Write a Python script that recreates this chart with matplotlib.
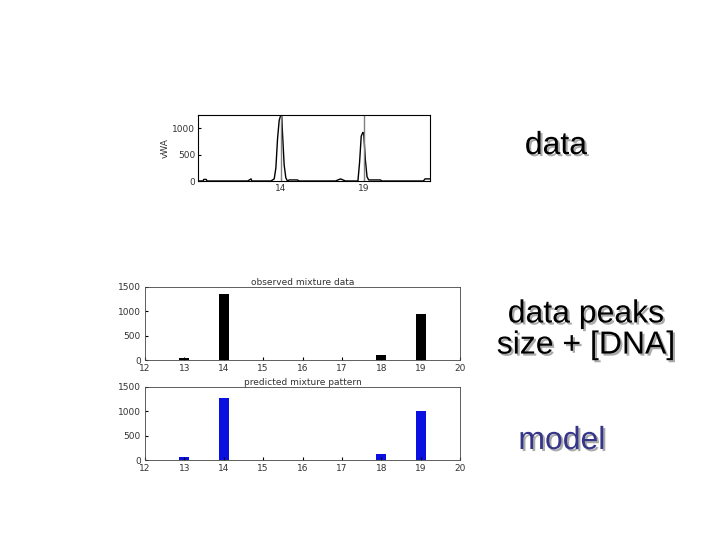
import matplotlib
matplotlib.use("Agg")
import matplotlib.pyplot as plt
import matplotlib.patheffects as pe

# trace data (allele position, signal)
trace_x = [9.0, 9.3, 9.35, 9.5, 9.55, 12.0, 12.2, 12.25, 13.4, 13.6, 13.7, 13.8, 13.9, 14.0, 14.05, 14.1, 14.2, 14.3, 14.4, 14.5, 14.6, 15.0, 15.1,
           17.3, 17.6, 17.9, 18.2, 18.65, 18.75, 18.85, 18.95, 19.0, 19.1, 19.2, 19.3, 19.4, 20.0, 20.1, 22.6, 22.7, 23.0]
trace_y = [0, 0, 30, 30, 0, 0, 40, 0, 0, 40, 250, 800, 1150, 1250, 1250, 900, 300, 60, 0, 20, 20, 20, 0,
           0, 40, 0, 0, 0, 350, 850, 920, 900, 400, 80, 20, 20, 20, 0, 0, 40, 40]
trace_ticks = [14, 19]

alleles = [13, 14, 18, 19]
observed = [50, 1350, 100, 950]
predicted = [70, 1270, 130, 1000]
bar_ticks = [12, 13, 14, 15, 16, 17, 18, 19, 20]

fig = plt.figure(figsize=(7.2, 5.4), dpi=100)
W, H = 720, 540
def ax_at(x0, y0, x1, y1):
    return fig.add_axes([x0 / W, 1 - y1 / H, (x1 - x0) / W, (y1 - y0) / H])

tf = dict(fontsize=6.5, color='#333333')

ax = ax_at(198, 115, 430, 181)
ax.plot(trace_x, trace_y, color='black', lw=1.0)
for t in trace_ticks:
    ax.axvline(t, color='gray', lw=1)
ax.set_xlim(9, 23)
ax.set_ylim(0, 1250)
ax.set_xticks(trace_ticks)
ax.set_yticks([0, 500, 1000])
ax.set_ylabel('vWA', **tf, labelpad=2)
ax.tick_params(labelsize=6.5, length=2, direction='in', pad=2, labelcolor='#333333')

for (y0, y1, vals, col, title) in [(287, 360, observed, 'black', 'observed mixture data'),
                                   (387, 460, predicted, '#0a10e0', 'predicted mixture pattern')]:
    a = ax_at(145, y0, 460, y1)
    a.bar(alleles, vals, width=0.25, color=col)
    a.set_xlim(12, 20)
    a.set_ylim(0, 1500)
    a.set_xticks(bar_ticks)
    a.set_yticks([0, 500, 1000, 1500])
    a.set_title(title, fontsize=6.5, color='#333333', pad=1)
    a.tick_params(labelsize=6.5, length=2, direction='in', pad=3, labelcolor='#333333')
    for s in a.spines.values():
        s.set_color('#444444'); s.set_linewidth(0.6)

shadow = [pe.SimplePatchShadow(offset=(1.5, -1.5), shadow_rgbFace='#aaaaaa', alpha=1), pe.Normal()]
kw = dict(ha='center', va='center', fontsize=23, family='Liberation Sans', path_effects=shadow)
fig.text(556 / W, 1 - 146 / H, 'data', **kw)
fig.text(586 / W, 1 - 330 / H, 'data peaks\nsize + [DNA]', linespacing=1.05, **kw)
fig.text(562 / W, 1 - 441 / H, 'model', color='#35358a', **kw)

fig.savefig('out.png', dpi=100)
